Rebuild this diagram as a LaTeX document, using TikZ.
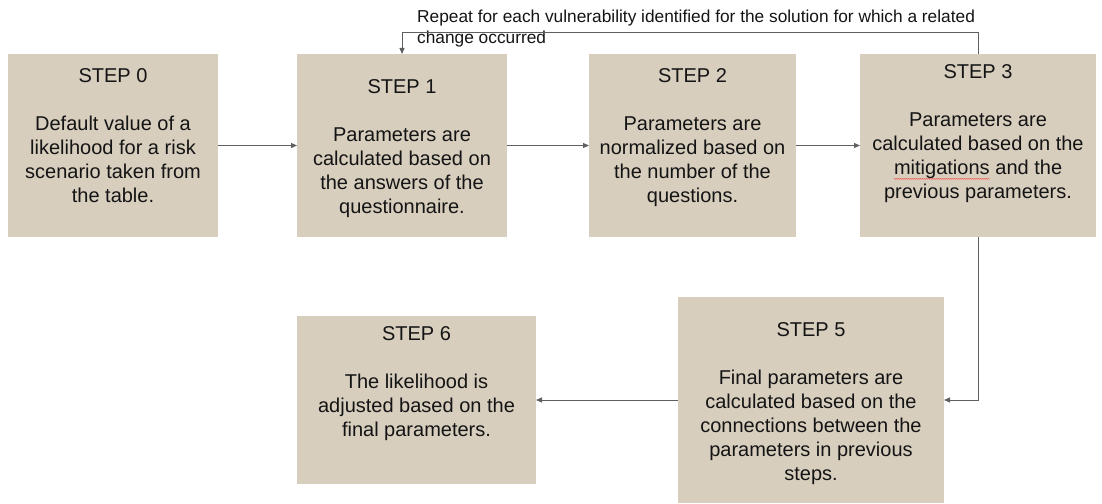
\documentclass[tikz,border=0pt]{standalone}
\usepackage{fontspec}
\setmainfont{Liberation Sans}
\usetikzlibrary{arrows.meta,decorations.pathmorphing}

\definecolor{boxfill}{RGB}{215,206,190}
\definecolor{linegray}{RGB}{95,95,95}
\definecolor{ink}{RGB}{20,20,20}

% a word marked with a red wavy underline
\newcommand\spellword[1]{\tikz[baseline=(sw.base)]{%
  \node[inner sep=0pt,outer sep=0pt] (sw) {#1};
  \draw[red!75,line width=0.4pt,decorate,
        decoration={snake,amplitude=0.45pt,segment length=2pt}]
    ([yshift=-4pt]sw.base west) -- ([yshift=-4pt]sw.base east);}}

\tikzset{
  stepbox/.style={fill=boxfill,draw=none,inner sep=0pt,outer sep=0pt},
  steptext/.style={text=ink,align=center,inner sep=0pt,
                   font=\fontsize{20}{24}\selectfont},
  looplabel/.style={text=ink,align=left,inner sep=0pt,
                    font=\fontsize{17.3}{20.8}\selectfont},
  conn/.style={draw=linegray,line width=1pt,
               -{Triangle[length=6pt,width=5pt]}}
}

\begin{document}
\begin{tikzpicture}[x=1pt,y=-1pt]
  \useasboundingbox (0,0) rectangle (1102,503);

  % boxes
  \node[stepbox,minimum width=210pt,minimum height=183pt] (s0) at (113,145.5) {};
  \node[stepbox,minimum width=210pt,minimum height=183pt] (s1) at (402,145.5) {};
  \node[stepbox,minimum width=207pt,minimum height=183pt] (s2) at (692.5,145.5) {};
  \node[stepbox,minimum width=236pt,minimum height=183pt] (s3) at (978,145.5) {};
  \node[stepbox,minimum width=266pt,minimum height=206pt] (s5) at (811,400) {};
  \node[stepbox,minimum width=239pt,minimum height=168pt] (s6) at (416.5,400) {};

  % box texts
  \node[steptext] (t0) at (113,135.5) {STEP 0\\[24pt]Default value of a\\likelihood for a risk\\scenario taken from\\the table.};
  \node[steptext] (t1) at (402,148.5) {STEP 1\\[24pt]Parameters are\\calculated based on\\the answers of the\\questionnaire.};
  \node[steptext] (t2) at (692.5,137.5) {STEP 2\\[24pt]Parameters are\\normalized based on\\the number of the\\questions.};
  \node[steptext] (t3) at (978,134) {STEP 3\\[24pt]Parameters are\\calculated based on the\\\spellword{mitigations} and the\\previous parameters.};
  \node[steptext] (t5) at (811,403.5) {STEP 5\\[24pt]Final parameters are\\calculated based on the\\connections between the\\parameters in previous\\steps.};
  \node[steptext] (t6) at (416.5,384) {STEP 6\\[24pt]The likelihood is\\adjusted based on the\\final parameters.};

  % loop label
  \node[looplabel,anchor=north west] (lbl) at (417,9.5)
    {Repeat for each vulnerability identified for the solution for which a related\\change occurred};

  % connectors
  \draw[conn] (s0.east) -- (s1.west);
  \draw[conn] (s1.east) -- (s2.west);
  \draw[conn] (s2.east) -- (s3.west);
  \draw[conn] (s3.south) |- (s5.east);
  \draw[conn] (s5.west) -- (s6.east);
  \draw[conn] (s3.north) -- ([yshift=21pt]s3.north) -| (s1.north);
\end{tikzpicture}
\end{document}
